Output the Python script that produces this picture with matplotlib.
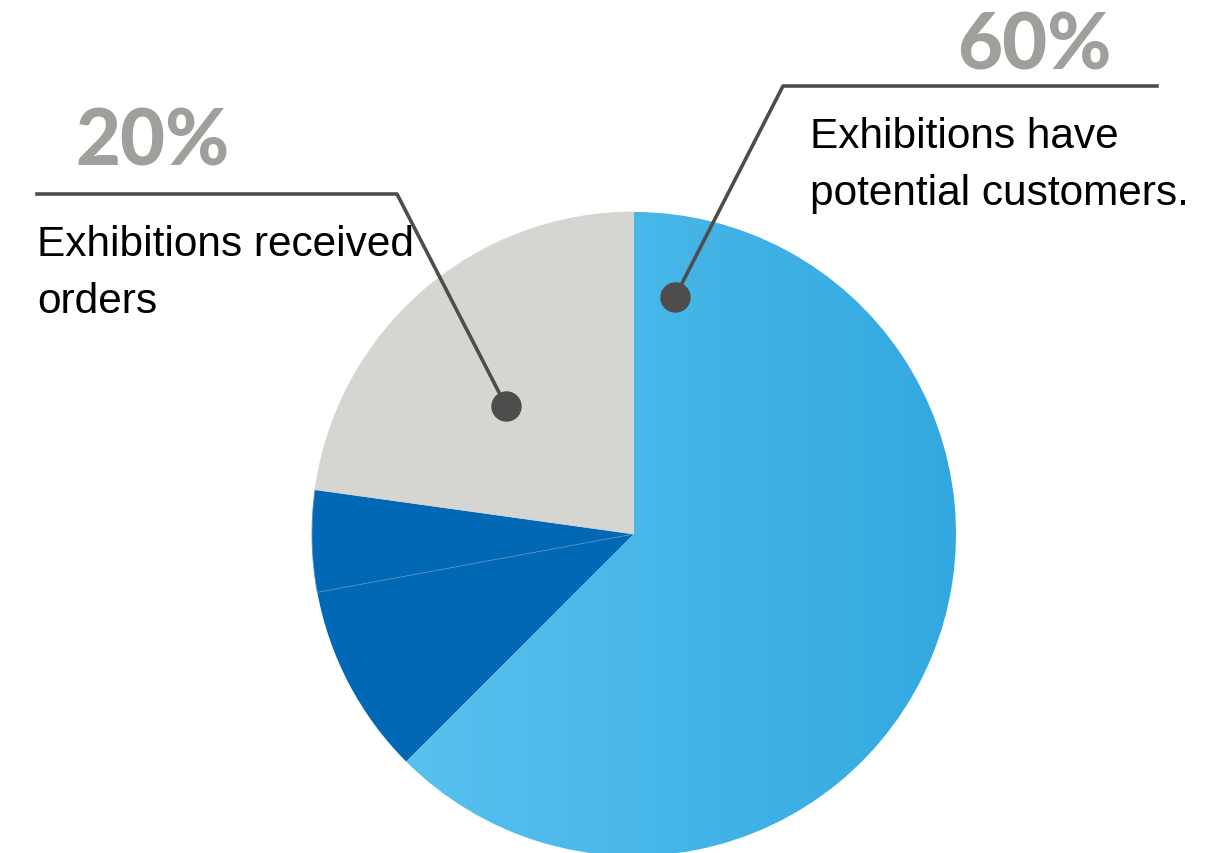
import numpy as np
import matplotlib
matplotlib.use("Agg")
from matplotlib import pyplot as plt
from matplotlib.colors import LinearSegmentedColormap

# slice shares, clockwise from 12 o'clock
shares = [62.5, 9.6, 5.1, 22.8]
slice_colors = ["none", "#0068B4", "#0068B4", "#D5D5D2"]
blue_grad = ["#58C2EF", "#33A8E0"]

pct_labels = ["60%", "20%"]
texts_right = ["Exhibitions have", "potential customers."]
texts_left = ["Exhibitions received", "orders"]

W, H = 1218, 854
fig = plt.figure(figsize=(W / 100, H / 100), dpi=100)
ax = fig.add_axes([0, 0, 1, 1])
ax.set_xlim(0, W)
ax.set_ylim(0, H)
ax.set_aspect("equal")
ax.axis("off")

cx, cy, r = 634, H - 535, 322

wedges, _ = ax.pie(shares, colors=slice_colors, startangle=90, counterclock=False,
                   center=(cx, cy), radius=r, frame=True,
                   wedgeprops=dict(linewidth=0))
ax.set_xlim(0, W)
ax.set_ylim(0, H)
ax.axis("off")

# thin light line between the two dark slices
wedges[2].set_edgecolor("#4D8FC8")
wedges[2].set_linewidth(0.6)
wedges[3].set_edgecolor("#D5D5D2")
wedges[3].set_linewidth(0.6)

# horizontal gradient on the big slice
cmap = LinearSegmentedColormap.from_list("bl", blue_grad)
grad = np.linspace(0, 1, 256).reshape(1, -1)
im = ax.imshow(grad, cmap=cmap, aspect="auto",
               extent=(cx - r * 0.72, cx + r, cy - r, cy + r), zorder=1)
im.set_clip_path(wedges[0])
ax.set_xlim(0, W)
ax.set_ylim(0, H)

# leader lines
lc = "#4F4D4C"
ax.plot([1157, 783, 675], [H - 87, H - 87, H - 298], color=lc, lw=2.6, zorder=3)
ax.plot([37, 397, 506], [H - 195, H - 195, H - 407], color=lc, lw=2.6, zorder=3)
ax.scatter([675, 506], [H - 298, H - 407], s=480, color="#4F4D4C", zorder=4,
           linewidths=0)

# percent labels
pct_font = dict(family=["Lato", "DejaVu Sans"], weight="black", color="#A09F9B",
                fontsize=56)
ax.text(1112, H - 70, pct_labels[0], ha="right", va="baseline", **pct_font)
ax.text(230, H - 166, pct_labels[1], ha="right", va="baseline", **pct_font)

# descriptions
txt_font = dict(family=["Liberation Sans", "DejaVu Sans"], color="black", fontsize=30.5)
ax.text(810, H - 148, texts_right[0], ha="left", va="baseline", **txt_font)
ax.text(810, H - 205, texts_right[1], ha="left", va="baseline", **txt_font)
ax.text(37, H - 256, texts_left[0], ha="left", va="baseline", **txt_font)
ax.text(37, H - 313, texts_left[1], ha="left", va="baseline", **txt_font)

plt.savefig("out.png", dpi=100)
